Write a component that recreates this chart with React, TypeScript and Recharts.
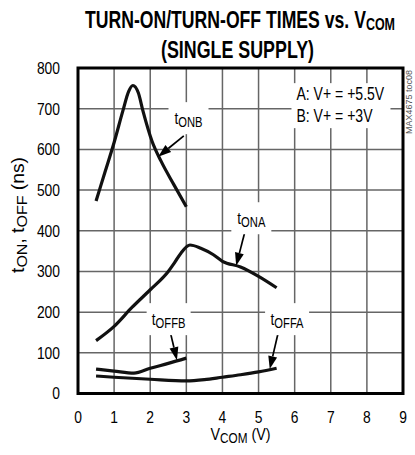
import React from 'react';
import { LineChart, Line, XAxis, YAxis, CartesianGrid, ReferenceArea, ReferenceLine, ReferenceDot } from 'recharts';

const onbV = [0.5, 0.75, 1.0, 1.25, 1.4, 1.52, 1.67, 1.8, 2.05, 2.3, 2.65, 3.0];
const onbT = [473, 545, 617, 697, 742, 757, 739, 694, 620, 571, 514, 459];

const onaV = [0.5, 1.0, 1.5, 2.0, 2.5, 2.67, 2.85, 3.1, 3.4, 3.75, 4.0, 4.5, 5.0, 5.5];
const onaT = [130, 165, 212, 255, 300, 321, 345, 365, 357, 341, 325, 311, 288, 260];

const offbV = [0.5, 1.0, 1.55, 2.0, 2.5, 3.0];
const offbT = [60, 55, 50, 62, 74, 87];

const offaV = [0.5, 1.0, 2.0, 3.0, 3.5, 4.0, 4.5, 5.0, 5.5];
const offaT = [43, 40, 35, 31, 34, 40, 46, 53, 62];

const xTicks = [0, 1, 2, 3, 4, 5, 6, 7, 8, 9];
const yTicks = [0, 100, 200, 300, 400, 500, 600, 700, 800];

const legendLines = ['A: V+ = +5.5V', 'B: V+ = +3V'];

const FONT = '"Liberation Sans", Arial, Helvetica, sans-serif';

const toPoints = (vs: number[], ts: number[]) => vs.map((v, i) => ({ v, t: ts[i] }));

const onbData = toPoints(onbV, onbT);
const onaData = toPoints(onaV, onaT);
const offbData = toPoints(offbV, offbT);
const offaData = toPoints(offaV, offaT);

// annotation arrows: [from, to] in data units
const arrows = [
  [{ x: 2.93, y: 633 }, { x: 2.22, y: 582 }],
  [{ x: 4.62, y: 397 }, { x: 4.38, y: 314 }],
  [{ x: 2.56, y: 149 }, { x: 2.74, y: 82 }],
  [{ x: 5.54, y: 148 }, { x: 5.31, y: 60 }],
];

const tags = [
  { x: 3.06, y: 662, sub: 'ONB', w: 40 },
  { x: 4.8, y: 416, sub: 'ONA', w: 40 },
  { x: 2.51, y: 168, sub: 'OFFB', w: 44 },
  { x: 5.79, y: 168, sub: 'OFFA', w: 44 },
];

// condensed text: regular font squeezed horizontally
const NText = ({ x, y, size, anchor = 'start', sx = 0.82, dy, children }: any) => (
  <text
    transform={`translate(${x},${y}) scale(${sx},1)`}
    x={0}
    y={0}
    dy={dy}
    textAnchor={anchor}
    fontFamily={FONT}
    fontSize={size}
    fill="#000"
  >
    {children}
  </text>
);

const YTick = (p: any) => (
  <NText x={p.x} y={p.y} dy="0.355em" size={16.5} sx={0.84} anchor="end">
    {p.payload.value}
  </NText>
);

const XTick = (p: any) => (
  <NText x={p.x} y={p.y} dy="0.71em" size={16.5} sx={0.84} anchor="middle">
    {p.payload.value}
  </NText>
);

const arrowShape = (p: any) => {
  const { x1, y1, x2, y2 } = p;
  const dx = x2 - x1;
  const dy = y2 - y1;
  const len = Math.hypot(dx, dy) || 1;
  const ux = dx / len;
  const uy = dy / len;
  const hl = 13;
  const hw = 4.5;
  const bx = x2 - ux * hl;
  const by = y2 - uy * hl;
  return (
    <g>
      <line x1={x1} y1={y1} x2={bx} y2={by} stroke="#000" strokeWidth={1.7} />
      <polygon
        points={`${x2},${y2} ${bx - uy * hw},${by + ux * hw} ${bx + uy * hw},${by - ux * hw}`}
        fill="#000"
      />
    </g>
  );
};

const tagShape = (sub: string, w: number) => (p: any) => (
  <g>
    <rect x={p.cx - w / 2} y={p.cy - 22} width={w} height={32} fill="#fff" />
    <NText x={p.cx} y={p.cy} size={17} sx={0.8} anchor="middle">
      t<tspan fontSize={14} dy={3}>{sub}</tspan>
    </NText>
  </g>
);

const legendShape = (p: any) => (
  <g>
    <rect x={p.cx - 5} y={p.cy - 17} width={99} height={45} fill="#fff" />
    {legendLines.map((s, i) => (
      <NText key={s} x={p.cx} y={p.cy + i * 22} size={18} sx={0.78}>
        {s}
      </NText>
    ))}
  </g>
);

const XLabel = (props: any) => {
  const vb = props.viewBox;
  return (
    <text
      x={vb.x + vb.width / 2}
      y={440}
      textAnchor="middle"
      fontFamily={FONT}
      fontSize={17}
      textLength={60}
      lengthAdjust="spacingAndGlyphs"
      fill="#000"
    >
      V<tspan fontSize={14} dy={3}>COM</tspan>
      <tspan dy={-3}> (V)</tspan>
    </text>
  );
};

const YLabel = () => (
  <text
    x={24}
    y={215}
    transform="rotate(-90 24 215)"
    textAnchor="middle"
    fontFamily={FONT}
    fontSize={18}
    textLength={116}
    lengthAdjust="spacingAndGlyphs"
    fill="#000"
  >
    t<tspan fontSize={15} dy={3}>ON</tspan>
    <tspan dy={-3}>, t</tspan>
    <tspan fontSize={15} dy={3}>OFF</tspan>
    <tspan dy={-3}> (ns)</tspan>
  </text>
);

export default function App() {
  return (
    <div style={{ position: 'absolute', left: 0, top: 0, width: 415, height: 455, background: '#fff' }}>
      <LineChart
        width={415}
        height={455}
        margin={{ top: 68, right: 12, bottom: 0, left: 0 }}
      >
        <CartesianGrid stroke="#666" strokeWidth={1.5} />
        <XAxis
          type="number"
          dataKey="v"
          domain={[0, 9]}
          ticks={xTicks}
          axisLine={false}
          tickLine={false}
          tickSize={0}
          tickMargin={18}
          height={61.5}
          tick={XTick}
          label={<XLabel />}
        />
        <YAxis
          type="number"
          dataKey="t"
          domain={[0, 800]}
          ticks={yTicks}
          axisLine={false}
          tickLine={false}
          tickSize={0}
          tickMargin={18}
          width={78}
          tick={YTick}
          label={<YLabel />}
        />
        <ReferenceArea x1={0} x2={9} y1={0} y2={800} fill="none" stroke="#000" strokeWidth={3} />
        <Line data={onbData} dataKey="t" type="monotone" stroke="#111" strokeWidth={3.2} dot={false} isAnimationActive={false} />
        <Line data={onaData} dataKey="t" type="monotone" stroke="#111" strokeWidth={3.2} dot={false} isAnimationActive={false} />
        <Line data={offbData} dataKey="t" type="monotone" stroke="#111" strokeWidth={3.2} dot={false} isAnimationActive={false} />
        <Line data={offaData} dataKey="t" type="monotone" stroke="#111" strokeWidth={3.2} dot={false} isAnimationActive={false} />
        {tags.map((g) => (
          <ReferenceDot key={g.sub} x={g.x} y={g.y} r={0} shape={tagShape(g.sub, g.w)} />
        ))}
        <ReferenceDot x={6.05} y={721} r={0} shape={legendShape} />
        {arrows.map((a, i) => (
          <ReferenceLine key={i} segment={a} shape={arrowShape} />
        ))}
      </LineChart>
      <svg width={415} height={455} style={{ position: 'absolute', left: 0, top: 0, pointerEvents: 'none' }}>
        <text x={240} y={28} textAnchor="middle" fontFamily={FONT} fontWeight="bold" fontSize={24} textLength={310} lengthAdjust="spacingAndGlyphs" fill="#000">
          TURN-ON/TURN-OFF TIMES vs. V<tspan fontSize={17} dy={2}>COM</tspan>
        </text>
        <text x={237.5} y={58} textAnchor="middle" fontFamily={FONT} fontWeight="bold" fontSize={24} textLength={153} lengthAdjust="spacingAndGlyphs" fill="#000">
          (SINGLE SUPPLY)
        </text>
        <text x={412} y={102} transform="rotate(-90 412 102)" textAnchor="middle" fontFamily={FONT} fontSize={9} textLength={64} lengthAdjust="spacingAndGlyphs" fill="#555">
          MAX4675 toc08
        </text>
      </svg>
    </div>
  );
}
